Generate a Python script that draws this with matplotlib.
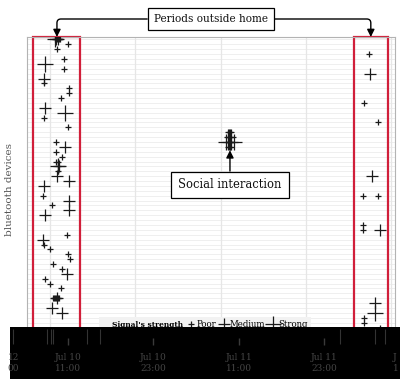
import matplotlib
matplotlib.use("Agg")
import matplotlib.pyplot as plt
from matplotlib.lines import Line2D
from matplotlib.patches import Rectangle

plt.rcParams['font.family'] = ['DejaVu Serif']

# ---------------- data ----------------
# hours after Jul 10 11:00, device index, signal strength (1 Poor, 2 Medium, 3 Strong)
time_h = [0.70, 0.84, 0.98, 1.13, 1.27, 1.41, 0.70,
          2.53, 0.98, 1.97, -0.70, 1.97, -0.84, -0.84, 2.67, 2.67, 1.55,
          -0.70, 2.11, -0.84, 2.53, 0.84, 2.11, 0.84, 1.69, 0.84,
          1.13, 1.13, 1.13, 1.13, 1.27,
          0.98, 2.67, -0.84, -0.98, 2.67, 0.28, 2.67, -0.70, 2.39, -0.98,
          -0.84, 0.00, 2.53, 2.81, 0.42, 1.69, 2.39, -0.70, 0.00, 1.55,
          0.42, 0.56, 0.70, 0.84, 0.98, 1.13, 1.27, 0.98, 0.28, 1.69,
          25.05, 25.2, 25.35, 25.5, 25.05, 25.2, 25.35, 25.5,
          25.05, 25.2, 25.35, 25.5, 25.05, 25.2, 25.35, 25.5,
          25.3, 25.3, 24.8, 25.8,
          44.9, 45.0, 44.2, 46.1, 45.3, 44.0, 46.1, 44.0, 44.0, 46.4,
          45.7, 45.7, 44.2, 44.2, 46.4]
device = [0, 0, 0, 0, 0, 0, 0,
          1, 2, 4, 5, 6, 8, 9, 10, 11, 12,
          14, 15, 16, 18, 21, 22, 23, 24, 25,
          25, 26, 27, 26, 26,
          28, 29, 30, 32, 33, 34, 35, 36, 40, 41,
          42, 43, 44, 45, 46, 47, 48, 49, 50, 51,
          53, 53, 53, 53, 53, 53, 53, 53, 55, 56,
          19, 19, 19, 19, 20, 20, 20, 20,
          21, 21, 21, 21, 22, 22, 22, 22,
          21, 20, 21, 21,
          3, 7, 13, 17, 28, 32, 32, 38, 39, 39,
          54, 56, 57, 58, 59]
strength = [1, 2, 1, 2, 1, 1, 3,
            1, 1, 1, 3, 1, 2, 1, 1, 1, 1,
            2, 3, 1, 1, 1, 2, 1, 1, 1,
            1, 3, 1, 1, 2,
            2, 2, 2, 1, 2, 1, 2, 2, 1, 2,
            1, 1, 1, 1, 1, 1, 2, 1, 1, 1,
            1, 1, 1, 1, 1, 1, 1, 2, 2, 2,
            1, 1, 1, 1, 1, 1, 1, 1,
            1, 1, 1, 1, 1, 1, 1, 1,
            3, 2, 3, 3,
            1, 2, 1, 1, 2, 1, 1, 1, 1, 2,
            2, 3, 1, 1, 1]
strength_names = ["Poor", "Medium", "Strong"]
n_devices = 60

away_periods = [(-2.4, 4.2), (42.8, 47.5)]
break_hours = [0, 12, 24, 36]
break_labels = ["Jul 10\n11:00", "Jul 10\n23:00", "Jul 11\n11:00", "Jul 11\n23:00"]
rug_hours = [-7.74, -2.95, -2.39, -2.11, 2.67, 4.5, 38.3, 43.2, 44.6]

# ---------------- figure ----------------
W, H = 400, 379
fig = plt.figure(figsize=(W / 100, H / 100), dpi=100)
ax = fig.add_axes([27 / W, 1 - 330 / H, 368 / W, 293 / H])

xmin, xmax = -3.23, 48.5
ax.set_xlim(xmin, xmax)
ax.set_ylim(n_devices - 0.5, -0.5)

for d in range(n_devices):
    ax.axhline(d, color='#ececec', lw=0.6, zorder=0)
for b in break_hours + [48]:
    ax.axvline(b, color='#e6e6e6', lw=0.9, zorder=0)

ax.set_xticks([])
ax.set_yticks([])
for s in ax.spines.values():
    s.set_color('#b3b3b3')
    s.set_linewidth(0.8)

for a, b in away_periods:
    ax.add_patch(Rectangle((a, -0.5), b - a, n_devices + 5, fill=False,
                           edgecolor='#d11f3a', lw=1.6, zorder=2, clip_on=False))

msizes = {1: 5, 2: 8, 3: 12}
for s in (1, 2, 3):
    xs = [t for t, k in zip(time_h, strength) if k == s]
    ys = [d for d, k in zip(device, strength) if k == s]
    ax.plot(xs, ys, linestyle='none', marker='+', ms=msizes[s], mew=0.9,
            color='#1a1a1a', zorder=3)

ax.set_ylabel("bluetooth devices", color='#555555', fontsize=7.5, labelpad=6)
ax.yaxis.set_label_coords(-0.035, 0.48)

arrow_kw = dict(arrowstyle='-|>', color='black', lw=1, mutation_scale=11,
                shrinkA=0, shrinkB=0)
# annotations
ax.annotate('', xy=(45.1, 1.0), xycoords=('data', 'axes fraction'),
            xytext=(211, H - 19), textcoords='figure pixels',
            arrowprops=dict(connectionstyle='angle,angleA=0,angleB=90,rad=4', **arrow_kw),
            annotation_clip=False, zorder=5)
ax.annotate('Periods outside home', xy=(0.98, 1.0), xycoords=('data', 'axes fraction'),
            xytext=(211, H - 19), textcoords='figure pixels', ha='center', va='center',
            fontsize=7.6, color='#111111',
            bbox=dict(boxstyle='square,pad=0.6', fc='white', ec='black', lw=0.9),
            arrowprops=dict(connectionstyle='angle,angleA=0,angleB=90,rad=4', **arrow_kw),
            annotation_clip=False, zorder=6)
ax.annotate('Social interaction', xy=(25.3, 22.7), xytext=(25.3, 29.8),
            ha='center', va='center', fontsize=8.3, color='#111111',
            bbox=dict(boxstyle='square,pad=0.6', fc='white', ec='black', lw=0.9),
            arrowprops=dict(**arrow_kw),
            zorder=6)

# legend
handles = [Line2D([], [], linestyle='none')] + [
    Line2D([], [], linestyle='none', marker='+', ms=msizes[s], mew=0.9, color='#1a1a1a')
    for s in (1, 2, 3)]
labels = ["Signal's strength"] + strength_names
leg = ax.legend(handles, labels, ncol=4, loc='upper left',
                bbox_to_anchor=(95 / W, 1 - 313 / H), bbox_transform=fig.transFigure,
                frameon=True, fancybox=False, facecolor='#f2f2f2', edgecolor='none',
                framealpha=1, fontsize=6.2, handlelength=1.0, handletextpad=0.15,
                columnspacing=0.4, borderpad=0.35)
leg.get_texts()[0].set_fontweight('bold')
leg.get_texts()[0].set_fontsize(5.4)
leg.set_zorder(7)

# bottom black band with axis labels
band = fig.add_axes([10 / W, 0, 390 / W, 52 / H])
band.set_facecolor('black')
band.set_xlim((10 - 68) / 7.11, (400 - 68) / 7.11)
band.set_ylim(0, 52)
for s in band.spines.values():
    s.set_visible(False)
band.set_xticks([])
band.set_yticks([])
for b, lab in zip(break_hours, break_labels):
    band.vlines(b, 34, 41, color='#3a3a3a', lw=1)
    band.text(b, 16, lab, ha='center', va='center', fontsize=6.5, color='#454545',
              linespacing=1.25)
band.vlines(rug_hours, 35, 50, color='#333333', lw=0.8)
band.text((19 - 68) / 7.11, 16, "12\n00", ha='right', va='center', fontsize=6.5,
          color='#454545', linespacing=1.25)
band.text((393 - 68) / 7.11, 16, "J\n1", ha='left', va='center', fontsize=6.5,
          color='#454545', linespacing=1.25)

fig.savefig("out.png", dpi=100)
